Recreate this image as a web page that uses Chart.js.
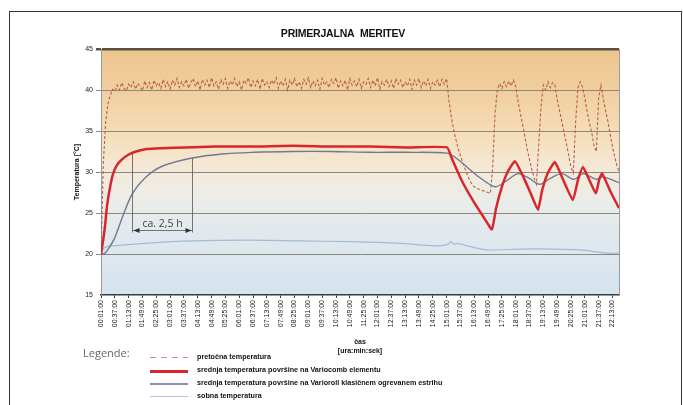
<!DOCTYPE html>
<html>
<head>
<meta charset="utf-8">
<script src="https://cdn.jsdelivr.net/npm/chart.js@4.4.1/dist/chart.umd.min.js"></script>
<style>
  html, body { margin: 0; padding: 0; background: #fff; }
  body { width: 683px; height: 405px; position: relative; overflow: hidden; font-family: 'Liberation Sans', Arial, sans-serif; }
  #frame { position: absolute; left: 9px; top: 11px; width: 671px; height: 420px; border: 1px solid #333; }
  #chart { position: absolute; left: 0; top: 0; }
  #title { position: absolute; left: 243px; width: 200px; top: 27px; text-align: center; font: bold 10.5px 'Liberation Sans', sans-serif; color: #111; letter-spacing: -0.2px; }
  #legendHead { position: absolute; left: 83px; top: 345px; font: 11px 'Open Sans', sans-serif; color: #666; }
  .row { position: absolute; left: 150px; height: 12px; }
  .row .sample { position: absolute; left: 0; top: 6px; width: 38px; }
  .row .dashed { height: 1px; background: repeating-linear-gradient(to right, #e08676 0 6px, transparent 6px 11px); }
  .row .text { position: absolute; left: 47px; top: 0; white-space: nowrap; font: bold 7.2px 'Liberation Sans', sans-serif; line-height: 12px; color: #111; }
</style>
</head>
<body>
<div id="frame"></div>
<canvas id="chart" width="683" height="405"></canvas>
<div id="title">PRIMERJALNA&nbsp; MERITEV</div>
<div id="legendHead">Legende:</div>
<div id="legend"></div>
<script>
// x axis tick labels (ura:min:sek)
const timeLabels = [
  '00:01:00', '00:37:00', '01:13:00', '01:49:00', '02:25:00', '03:01:00', '03:37:00', '04:13:00',
  '04:49:00', '05:25:00', '06:01:00', '06:37:00', '07:13:00', '07:49:00', '08:25:00', '09:01:00',
  '09:37:00', '10:13:00', '10:49:00', '11:25:00', '12:01:00', '12:37:00', '13:13:00', '13:49:00',
  '14:25:00', '15:01:00', '15:37:00', '16:13:00', '16:49:00', '17:25:00', '18:01:00', '18:37:00',
  '19:13:00', '19:49:00', '20:25:00', '21:01:00', '21:37:00', '22:13:00'
];
const timeEndMin = 1350;
const tempTicks = [15, 20, 25, 30, 35, 40, 45];

// pretočna temperatura, one reading every 6 minutes from minute 1
const flowStartMin = 1;
const flowStepMin = 6;
const flowTemp = [
  20.0, 31.0, 36.0, 38.3, 39.3,
  40.1, 39.8, 40.6, 40.0, 40.9, 40.2, 39.9, 40.7, 40.3, 41.0,
  40.1, 40.8, 40.4, 39.9, 41.1, 40.3, 40.9, 40.0, 41.2, 40.5,
  40.9, 40.2, 41.3, 40.4, 41.0, 40.1, 41.2, 40.6, 41.4, 40.3,
  41.0, 40.5, 41.3, 40.2, 40.9, 41.4, 40.4, 41.1, 40.0, 41.3,
  40.6, 41.2, 40.3, 41.5, 40.5, 41.0, 40.1, 41.3, 40.7, 41.4,
  40.2, 41.1, 40.6, 41.4, 40.4, 41.0, 40.0, 41.2, 40.8, 41.5,
  40.3, 41.1, 40.5, 41.3, 40.1, 41.4, 40.6, 41.0, 40.3, 41.2,
  40.7, 41.5, 40.2, 41.1, 40.5, 41.3, 40.0, 41.2, 40.6, 41.4,
  40.4, 41.0, 40.2, 41.3, 40.7, 41.5, 40.3, 41.1, 40.5, 41.2,
  40.1, 41.4, 40.6, 41.0, 40.3, 41.3, 40.8, 41.5, 40.2, 41.1,
  40.5, 41.2, 40.0, 41.4, 40.6, 41.1, 40.4, 41.3, 40.2, 41.0,
  40.7, 41.4, 40.3, 41.2, 40.5, 41.5, 40.1, 41.0, 40.6, 41.3,
  40.4, 41.1, 40.2, 41.4, 40.7, 41.2, 40.3, 41.0, 40.5, 41.3,
  40.1, 41.2, 40.6, 41.4, 40.3, 41.1, 40.5, 41.3, 40.2, 41.0,
  40.6, 41.2, 40.4, 41.3, 40.7,
  41.4, 38.8, 36.8, 35.2, 34.0, 32.9, 32.0, 31.2, 30.4, 29.7,
  29.0, 28.5, 28.2, 28.0, 27.9, 27.8, 27.7, 27.6, 27.5, 27.4,
  30.5, 37.0, 40.0, 40.8, 40.2, 41.0, 40.4, 41.1, 40.5, 41.2,
  40.4, 38.6, 37.2, 35.8, 34.3, 32.8, 31.5, 30.3, 29.3, 28.5,
  33.5, 38.0, 40.6, 40.0, 41.0, 40.3, 40.9, 40.6, 38.8, 37.5,
  36.2, 34.8, 33.5, 32.0, 30.6, 29.9, 36.0, 40.3, 41.0, 40.4,
  39.0, 37.4, 36.0, 34.8, 33.2, 32.5, 39.0, 40.6, 39.0, 37.5,
  36.2, 34.6, 33.1, 31.8, 30.7, 29.9
];

// srednja temperatura površine na Variocomb elementu [minute, °C]
const variocombTemp = [
  [1, 20.0], [6, 21.5], [11, 23.2], [17, 26.0], [24, 28.0], [32, 29.7], [42, 30.8], [55, 31.5],
  [72, 32.1], [92, 32.5], [120, 32.8], [160, 32.9], [220, 33.0], [300, 33.1], [400, 33.1],
  [500, 33.2], [600, 33.1], [700, 33.1], [800, 33.0], [902, 33.0],
  [915, 31.6], [940, 29.0], [970, 26.5], [1000, 24.3], [1019, 23.0],
  [1030, 25.6], [1045, 28.2], [1060, 30.0], [1079, 31.3],
  [1100, 29.5], [1120, 27.4], [1139, 25.4],
  [1150, 27.8], [1165, 29.9], [1183, 31.2],
  [1205, 29.0], [1230, 26.6], [1243, 29.0], [1256, 30.6],
  [1273, 29.0], [1290, 27.4], [1298, 29.0], [1306, 29.8],
  [1328, 27.6], [1350, 25.6]
];

// srednja temperatura površine na Varioroll klasičnem ogrevanem estrihu [minute, °C]
const variorollTemp = [
  [1, 20.0], [11, 20.1], [24, 20.9], [37, 22.0], [56, 24.4], [82, 27.3], [116, 29.3],
  [160, 30.7], [238, 31.7], [316, 32.2], [400, 32.4], [500, 32.5], [600, 32.5], [700, 32.4],
  [800, 32.4], [902, 32.3], [923, 31.8], [944, 31.0], [988, 29.3], [1027, 28.2],
  [1053, 28.8], [1087, 29.8], [1113, 29.3], [1144, 28.5], [1170, 29.2], [1201, 29.8],
  [1233, 29.1], [1256, 29.8], [1292, 29.1], [1308, 29.4], [1350, 28.7]
];

// sobna temperatura [minute, °C]
const roomTemp = [
  [1, 20.0], [6, 20.6], [17, 20.9], [37, 21.0], [116, 21.3], [238, 21.6], [389, 21.7],
  [519, 21.6], [649, 21.5], [780, 21.3], [832, 21.1], [884, 21.0], [905, 21.2], [912, 21.5],
  [920, 21.2], [930, 21.3], [962, 20.9], [1006, 20.5], [1092, 20.6], [1178, 20.6],
  [1248, 20.5], [1319, 20.1], [1350, 20.1]
];

// "ca. 2,5 h" marker
const spanText = 'ca. 2,5 h';
const spanStartMin = 82;
const spanEndMin = 238;
const spanStartTemp = 32.3;
const spanEndTemp = 31.7;
const spanArrowTemp = 22.9;

const legendItems = [
  { text: 'pretočna temperatura', cls: 'dashed', border: 'none' },
  { text: 'srednja temperatura površine na Variocomb elementu', cls: '', border: '3px solid #d8262b' },
  { text: 'srednja temperatura površine na Varioroll klasičnem ogrevanem estrihu', cls: '', border: '2px solid #8a8ea6' },
  { text: 'sobna temperatura', cls: '', border: '1px solid #b4c4d6' }
];

var toMinutes = function(label) {
  var parts = label.split(':').map(Number);
  return parts[0] * 60 + parts[1];
};

var toPoints = function(pairs) {
  return pairs.map((p) => ({ x: p[0], y: p[1] }));
};

var flowPoints = flowTemp.map((v, i) => ({ x: flowStartMin + i * flowStepMin, y: v }));

// legend below the chart
var legendEl = document.getElementById('legend');
legendItems.forEach((item, i) => {
  var row = document.createElement('div');
  row.className = 'row';
  row.style.top = (351 + i * 13) + 'px';
  row.innerHTML = '<div class="sample ' + item.cls + '" style="border-top:' + item.border + '"></div><div class="text">' + item.text + '</div>';
  legendEl.appendChild(row);
});

// gradient behind the plot + right border
const plotBackground = {
  id: 'plotBackground',
  beforeDraw(chart) {
    const { ctx, chartArea: a } = chart;
    const g = ctx.createLinearGradient(0, a.top, 0, a.bottom);
    g.addColorStop(0, '#edc48e');
    g.addColorStop(0.18, '#f1cfa0');
    g.addColorStop(0.36, '#f5dfbb');
    g.addColorStop(0.5, '#f4eadb');
    g.addColorStop(0.62, '#eaede9');
    g.addColorStop(0.78, '#dfe8ee');
    g.addColorStop(1, '#d6e4ee');
    ctx.save();
    ctx.fillStyle = g;
    ctx.fillRect(a.left, a.top, a.right - a.left, a.bottom - a.top);
    ctx.restore();
  },
  afterDraw(chart) {
    const { ctx, chartArea: a } = chart;
    ctx.save();
    ctx.strokeStyle = '#9a9a9a';
    ctx.lineWidth = 1;
    ctx.beginPath();
    ctx.moveTo(a.right + 0.5, a.top);
    ctx.lineTo(a.right + 0.5, a.bottom);
    ctx.stroke();
    ctx.restore();
  }
};

// the heating-time span marker
const spanMarker = {
  id: 'spanMarker',
  afterDatasetsDraw(chart) {
    const { ctx, scales: { x, y } } = chart;
    const x1 = Math.round(x.getPixelForValue(spanStartMin)) + 0.5;
    const x2 = Math.round(x.getPixelForValue(spanEndMin)) + 0.5;
    const ya = Math.round(y.getPixelForValue(spanArrowTemp)) + 0.5;
    ctx.save();
    ctx.strokeStyle = '#555';
    ctx.fillStyle = '#333';
    ctx.lineWidth = 0.8;
    ctx.beginPath();
    ctx.moveTo(x1, y.getPixelForValue(spanStartTemp));
    ctx.lineTo(x1, ya + 2);
    ctx.moveTo(x2, y.getPixelForValue(spanEndTemp));
    ctx.lineTo(x2, ya + 2);
    ctx.moveTo(x1, ya);
    ctx.lineTo(x2, ya);
    ctx.stroke();
    ctx.beginPath();
    ctx.moveTo(x1 + 1, ya); ctx.lineTo(x1 + 7, ya - 2.5); ctx.lineTo(x1 + 7, ya + 2.5);
    ctx.closePath();
    ctx.moveTo(x2 - 1, ya); ctx.lineTo(x2 - 7, ya - 2.5); ctx.lineTo(x2 - 7, ya + 2.5);
    ctx.closePath();
    ctx.fill();
    ctx.font = '10.5px "Open Sans", sans-serif';
    ctx.fillStyle = '#444';
    ctx.textAlign = 'center';
    ctx.textBaseline = 'alphabetic';
    ctx.fillText(spanText, (x1 + x2) / 2, ya - 4);
    ctx.restore();
  }
};

var pad2 = function(n) { return (n < 10 ? '0' : '') + n; };

new Chart(document.getElementById('chart').getContext('2d'), {
  type: 'line',
  data: {
    datasets: [
      { data: toPoints(variocombTemp), borderColor: '#d8262b', borderWidth: 2.5, tension: 0.15 },
      { data: toPoints(variorollTemp), borderColor: '#737892', borderWidth: 1.4, tension: 0.3 },
      { data: flowPoints, borderColor: '#b85f48', borderWidth: 1.1, borderDash: [3, 2], tension: 0 },
      { data: toPoints(roomTemp), borderColor: '#a9bacb', borderWidth: 1.2, tension: 0.3 }
    ]
  },
  options: {
    responsive: false,
    animation: false,
    parsing: false,
    normalized: true,
    layout: { padding: { left: 73, top: 49, right: 64, bottom: 50 } },
    elements: { point: { radius: 0 } },
    plugins: {
      legend: { display: false },
      tooltip: { enabled: false }
    },
    scales: {
      x: {
        type: 'linear',
        min: toMinutes(timeLabels[0]),
        max: timeEndMin,
        afterFit: (s) => { s.height = 60; },
        afterBuildTicks: (s) => { s.ticks = timeLabels.map((l) => ({ value: toMinutes(l) })); },
        ticks: {
          autoSkip: false,
          maxRotation: 90,
          minRotation: 90,
          padding: 2,
          color: '#222',
          font: { family: 'Liberation Sans', size: 7 },
          callback: (v) => pad2(Math.floor(v / 60)) + ':' + pad2(v % 60) + ':00'
        },
        grid: { drawOnChartArea: false, tickLength: 3, color: '#3a3a3a' },
        border: { color: '#3a3a3a', width: 1.5 },
        title: {
          display: true,
          text: ['čas', '[ura:min:sek]'],
          padding: { top: 0, bottom: 0 },
          color: '#111',
          font: { family: 'Liberation Sans', size: 7, weight: 'bold', lineHeight: 1.25 }
        }
      },
      y: {
        min: tempTicks[0],
        max: tempTicks[tempTicks.length - 1],
        afterFit: (s) => { s.width = 28; },
        afterBuildTicks: (s) => { s.ticks = tempTicks.map((v) => ({ value: v })); },
        ticks: {
          padding: 3,
          color: '#222',
          font: { family: 'Liberation Sans', size: 7 }
        },
        grid: {
          tickLength: 5,
          color: (c) => c.tick && c.tick.value === 45 ? '#5f5142' : '#8e877c',
          lineWidth: (c) => c.tick && c.tick.value === 45 ? 2.5 : (c.tick && c.tick.value === 15 ? 0 : 1)
        },
        border: { color: '#9a9a9a', width: 1 },
        title: {
          display: true,
          text: 'Temperatura [°C]',
          padding: 0,
          color: '#111',
          font: { family: 'Liberation Sans', size: 7, weight: 'bold' }
        }
      }
    }
  },
  plugins: [plotBackground, spanMarker]
});
</script>
</body>
</html>
